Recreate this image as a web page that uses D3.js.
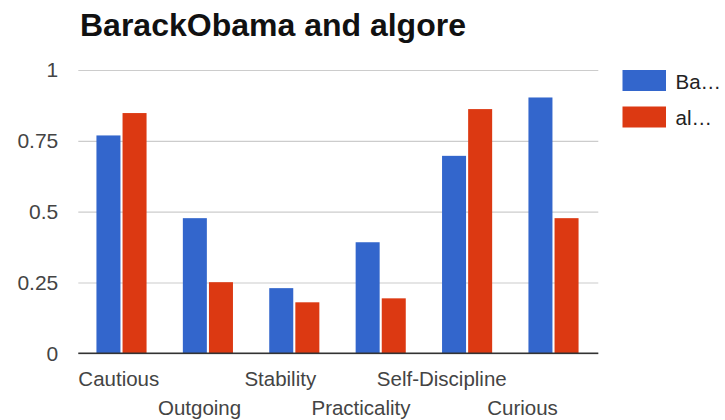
<!DOCTYPE html>
<html>
<head>
<meta charset="utf-8">
<script src="https://cdn.jsdelivr.net/npm/d3@7"></script>
<style>
  html, body { margin: 0; padding: 0; background: #fff; }
  svg { display: block; font-family: "Liberation Sans", Arial, sans-serif; }
</style>
</head>
<body>
<svg id="chart" width="725" height="420"></svg>
<script>
// Personality trait scores for two Twitter accounts
const categories = ["Cautious", "Outgoing", "Stability", "Practicality", "Self-Discipline", "Curious"];
const seriesNames = ["BarackObama", "algore"];
const legendLabels = ["Ba…", "al…"];
const barackObama = [0.769, 0.477, 0.23, 0.392, 0.697, 0.903];
const algore = [0.848, 0.251, 0.18, 0.194, 0.862, 0.477];
const yTicks = [0, 0.25, 0.5, 0.75, 1];
const yTickLabels = ["0", "0.25", "0.5", "0.75", "1"];
const colors = ["#3366cc", "#dc3912"];
const title = "BarackObama and algore";

const values = [barackObama, algore];
const rows = categories.map((c, i) => ({
  category: c,
  bars: seriesNames.map((s, j) => ({ series: s, value: values[j][i] }))
}));

const svg = d3.select("#chart");
const plot = { left: 78.3, right: 596.7, top: 70, bottom: 353.3 };

const x = d3.scaleBand(categories, [plot.left, plot.right])
  .paddingInner(0.42).paddingOuter(0.21);
const xInner = d3.scaleBand(seriesNames, [0, x.bandwidth()]).paddingInner(0.08);
const y = d3.scaleLinear([0, 1], [plot.bottom, plot.top]);
const color = d3.scaleOrdinal(seriesNames, colors);
// category labels sit on their own evenly spaced positions, staggered in two rows
const xLabel = d3.scalePoint(categories, [118.8, 522.5]);

// title
svg.append("text")
  .attr("x", 80).attr("y", 36)
  .attr("font-size", 32).attr("font-weight", "bold").attr("fill", "#111")
  .text(title);

// gridlines and y labels
const yAxis = svg.append("g")
  .attr("transform", `translate(${plot.left},0)`)
  .call(d3.axisLeft(y).tickValues(yTicks)
    .tickFormat((d, i) => yTickLabels[i])
    .tickSize(-(598.3 - plot.left)).tickPadding(20));
yAxis.select(".domain").remove();
yAxis.selectAll(".tick line").attr("stroke", "#cccccc").attr("stroke-width", 1.2);
yAxis.selectAll(".tick text")
  .attr("font-size", 21).attr("fill", "#444").attr("font-family", "Liberation Sans, Arial, sans-serif");

// bars
const groups = svg.append("g").selectAll("g")
  .data(rows).join("g")
  .attr("transform", d => `translate(${x(d.category)},0)`);
groups.selectAll("rect")
  .data(d => d.bars).join("rect")
  .attr("x", d => xInner(d.series))
  .attr("width", xInner.bandwidth())
  .attr("y", d => y(d.value))
  .attr("height", d => y(0) - y(d.value))
  .attr("fill", d => color(d.series));

// baseline
svg.append("line")
  .attr("x1", plot.left).attr("x2", 598.3)
  .attr("y1", y(0)).attr("y2", y(0))
  .attr("stroke", "#333").attr("stroke-width", 1.5);

// category labels
svg.append("g").selectAll("text")
  .data(categories).join("text")
  .attr("x", d => xLabel(d))
  .attr("y", (d, i) => i % 2 === 0 ? 386 : 414.5)
  .attr("text-anchor", "middle")
  .attr("font-size", 20.5).attr("fill", "#444")
  .text(d => d);

// legend
const legend = svg.append("g").selectAll("g")
  .data(seriesNames).join("g")
  .attr("transform", (d, i) => `translate(622.5,${70 + i * 36.5})`);
legend.append("rect")
  .attr("width", 43.5).attr("height", 21)
  .attr("fill", d => color(d));
legend.append("text")
  .attr("x", 53).attr("y", 18.5)
  .attr("font-size", 20.5).attr("fill", "#222")
  .text((d, i) => legendLabels[i]);
</script>
</body>
</html>
